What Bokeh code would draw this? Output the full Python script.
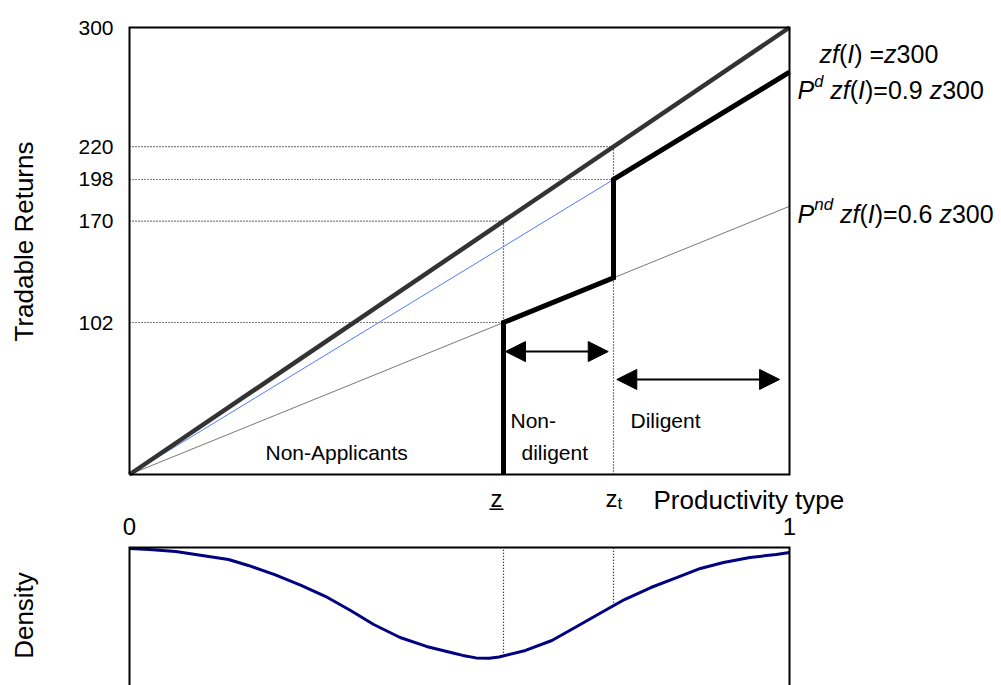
import numpy as np
from bokeh.plotting import figure
from bokeh.models import Range1d, Arrow, NormalHead
from bokeh.core.properties import value
from bokeh.embed import file_html
from bokeh.resources import INLINE

# ---- model parameters -------------------------------------------------------
f_I = 300.0            # f(I): returns of the most productive type
p_d = 0.9              # success probability when diligent
p_nd = 0.6             # success probability when not diligent
z_low = 170 / 300      # lowest applicant type (z underlined)
z_t = 220 / 300        # threshold type for diligence
y_ticks = [102, 170, 198, 220, 300]
x_ticks = [0, 1]

# density of productivity types (lower panel)
density_x = [0.0, 0.03, 0.07, 0.11, 0.15, 0.18, 0.22, 0.26, 0.30, 0.335,
             0.37, 0.41, 0.45, 0.49, 0.505, 0.525, 0.545, 0.56, 0.60, 0.64,
             0.675, 0.715, 0.75, 0.79, 0.83, 0.865, 0.90, 0.94, 0.98, 1.0]
density_y = [0.993, 0.986, 0.971, 0.942, 0.913, 0.870, 0.804, 0.725, 0.638,
             0.543, 0.442, 0.348, 0.283, 0.236, 0.218, 0.200, 0.198, 0.207,
             0.254, 0.326, 0.420, 0.529, 0.623, 0.710, 0.783, 0.848, 0.891,
             0.928, 0.949, 0.964]

FONT = "Liberation Sans"

# Canvas geometry: returns box spans 660 x 447 px, density box 660 x 138 px
W, H = 1001, 685
BOX_L, BOX_R, BOX_T, BOX_B = 129, 789, 27, 474
DEN_T = 547
sx = 1.0 / (BOX_R - BOX_L)               # x units per px
sy = f_I / (BOX_B - BOX_T)               # returns units per px
sd = 1.0 / (H - DEN_T)                   # density units per px


def ry(py):
    """Returns-axis coordinate of a vertical canvas position."""
    return (BOX_B - py) * sy


p = figure(width=W, height=H,
           x_range=Range1d(-BOX_L * sx, (W - BOX_L) * sx),
           y_range=Range1d(ry(H), ry(0)),
           output_backend="svg", toolbar_location=None,
           x_axis_location=None, y_axis_location=None,
           min_border=0, min_border_left=0, min_border_right=0,
           min_border_top=0, min_border_bottom=0)
p.extra_y_ranges = {"density": Range1d(0, H * sd)}
p.outline_line_color = None
p.background_fill_color = "white"
p.border_fill_color = "white"
for g in p.grid:
    g.visible = False

# Arial / Liberation Sans advance widths (em) for composing mixed-style labels
ADV = {"z": .5, "f": .278, "(": .333, ")": .333, "I": .278, " ": .278,
       "=": .584, ".": .278, "P": .667, "d": .556, "n": .556, "t": .278}
for ch in "0123456789":
    ADV[ch] = .556


def txt(x, y, text, size, dx=0, align="left", baseline="alphabetic",
        style="normal", angle=0.0):
    p.text(x=[x], y=[y], text=[text], x_offset=dx, angle=angle,
           text_font=value(FONT), text_font_size=f"{size}px",
           text_font_style=style, text_color="black",
           text_align=align, text_baseline=baseline)


def rich(x, y, runs, dx0, size):
    """Lay out runs of (text, style, scale, rise_px) one after another."""
    dx = dx0
    for t, style, scale, rise in runs:
        fs = size * scale
        if t.strip():
            txt(x, y + rise * sy, t, round(fs, 1), dx=dx, style=style)
        dx += sum(ADV[c] for c in t) * fs


# ---- upper panel: tradable returns -----------------------------------------
# dotted guides
hx1 = [z_t, z_t, z_low, z_low]
hy = [f_I * z_t, p_d * f_I * z_t, f_I * z_low, p_nd * f_I * z_low]
p.segment(x0=[0] * 4, y0=hy, x1=hx1, y1=hy, line_color="black",
          line_width=1.2, line_dash="1 2")
p.segment(x0=[z_low, z_t], y0=[0, 0], x1=[z_low, z_t],
          y1=[f_I * z_low, f_I * z_t],
          line_color="black", line_width=1.2, line_dash="1 2")

# return lines
p.line([0, 1], [0, p_nd * f_I], line_color="#555555", line_width=0.8)
p.line([0, z_t], [0, p_d * f_I * z_t], line_color="#4f7bff", line_width=1)
p.line([0, 1], [0, f_I], line_color="#333333", line_width=4.5)

# tradable returns of applicants
p.line([z_low, z_low, z_t, z_t, 1],
       [0, p_nd * f_I * z_low, p_nd * f_I * z_t, p_d * f_I * z_t, p_d * f_I],
       line_color="black", line_width=5, line_join="miter")

# box
p.line([0, 1, 1, 0, 0], [0, 0, f_I, f_I, 0], line_color="black",
       line_width=2, line_join="miter")


def head():
    return NormalHead(size=20, fill_color="black", line_color="black",
                      line_width=1)


p.add_layout(Arrow(start=head(), end=head(), x_start=z_low + 0.003, y_start=82.5,
                   x_end=z_t - 0.008, y_end=82.5, line_width=2,
                   line_color="black"))
p.add_layout(Arrow(start=head(), end=head(), x_start=z_t + 0.005, y_start=63.8,
                   x_end=0.985, y_end=63.8, line_width=2, line_color="black"))

# tick labels and axis title
for v in y_ticks:
    txt(0, v, str(v), 21, dx=-16, align="right", baseline="middle")
txt(-106 * sx, ry(241), "Tradable Returns", 26, align="center",
    baseline="middle", angle=np.pi / 2)

# region labels
txt(0.206, ry(452), "Non-Applicants", 21)
txt(z_low, ry(420), "Non-", 21, dx=7)
txt(z_low, ry(452), "diligent", 21, dx=18)
txt(z_t, ry(420), "Diligent", 21, dx=17)

# type markers under the box
txt(z_low, ry(498), "z", 24, dx=-7, align="center")
txt(z_low, ry(496), "_", 24, dx=-7, align="center")
txt(z_t, ry(498), "z", 24, dx=-8)
txt(z_t, ry(503), "t", 17, dx=4)
txt((653 - BOX_L) * sx, ry(499), "Productivity type", 26)

# line equations
S = 25
rich(1.0, ry(53), [("z", "italic", 1, 0), ("f", "italic", 1, 0),
                   ("(", "normal", 1, 0), ("I", "italic", 1, 0),
                   (")", "normal", 1, 0), (" ", "normal", 1, 0),
                   ("=", "normal", 1, 0),
                   ("z", "italic", 1, 0), ("300", "normal", 1, 0)], 30, S)
rich(1.0, ry(89), [("P", "italic", 1, 0), ("d", "italic", 0.66, 9),
                   (" ", "normal", 1, 0), ("zf", "italic", 1, 0),
                   ("(", "normal", 1, 0), ("I", "italic", 1, 0),
                   (")=0.9", "normal", 1, 0), (" ", "normal", 1, 0),
                   ("z", "italic", 1, 0), ("300", "normal", 1, 0)], 8, S)
rich(1.0, ry(213), [("P", "italic", 1, 0), ("nd", "italic", 0.68, 9),
                    (" ", "normal", 1, 0), ("zf", "italic", 1, 0),
                    ("(", "normal", 1, 0), ("I", "italic", 1, 0),
                    (")=0.6", "normal", 1, 0), (" ", "normal", 1, 0),
                    ("z", "italic", 1, 0), ("300", "normal", 1, 0)], 8, S)

# ---- lower panel: density of types -----------------------------------------
dz = [z_low, z_t]
dd = list(np.interp(dz, density_x, density_y))
p.segment(x0=dz, y0=dd, x1=dz, y1=[1, 1], line_color="black", line_width=1.2,
          line_dash="1 2", y_range_name="density")
p.line(density_x, density_y, line_color="#000080", line_width=3,
       y_range_name="density")
p.line([0, 0, 1, 1], [0, 1, 1, 0], line_color="black", line_width=2,
       line_join="miter", y_range_name="density")

for v in x_ticks:
    txt(v, ry(526), str(v), 24, align="center", baseline="middle")
txt(-106 * sx, ry(615), "Density", 26, align="center", baseline="middle",
    angle=np.pi / 2)

open("out.html", "w").write(file_html(p, INLINE))
